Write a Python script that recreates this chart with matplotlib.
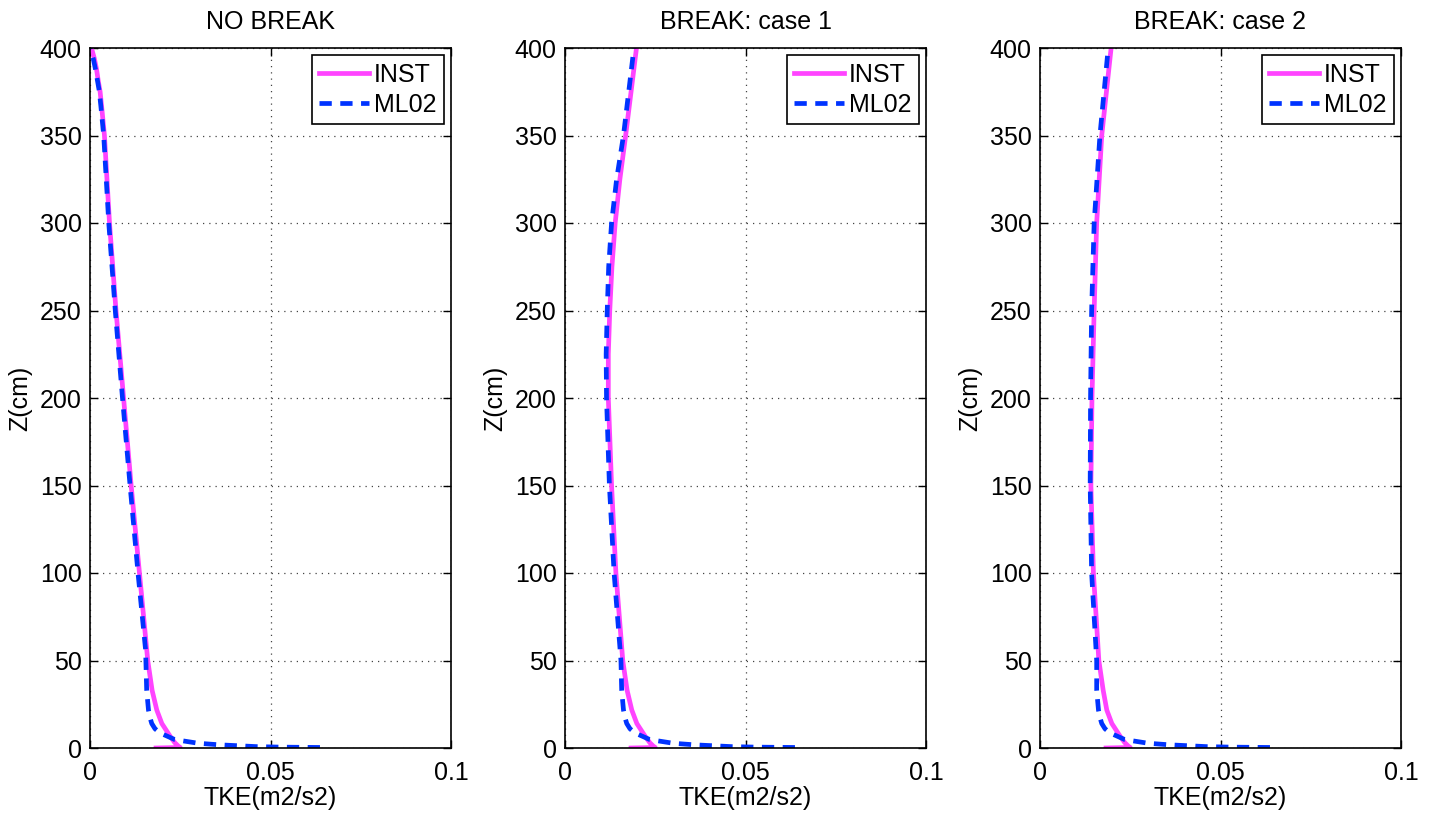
import numpy as np
import matplotlib.pyplot as plt

plt.rcParams['font.family'] = ['Liberation Sans', 'DejaVu Sans']

titles = ['NO BREAK', 'BREAK: case 1', 'BREAK: case 2']

# INST profiles (z in cm, TKE in m2/s2)
z_inst1 = [0, 0.3, 1, 3, 6.7, 14, 21.7, 33, 50, 100, 150, 200, 250, 300, 350, 367, 375,
           381, 388, 394, 400]
tke_inst1 = [0.0183, 0.025, 0.0245, 0.0235, 0.0222, 0.0199, 0.0185, 0.0172, 0.0160, 0.0137,
             0.0114, 0.0093, 0.0072, 0.0054, 0.0040, 0.0032, 0.0028, 0.0023, 0.0018, 0.0012,
             0.0004]
z_inst2 = [0, 0.3, 1, 3, 6.7, 14, 21.7, 33, 50, 100, 150, 200, 225, 250, 275, 300, 325,
           350, 400]
tke_inst2 = [0.0183, 0.025, 0.0245, 0.0235, 0.0222, 0.0199, 0.0185, 0.0172, 0.0160, 0.0141,
             0.0129, 0.0120, 0.0120, 0.0124, 0.0130, 0.0139, 0.0152, 0.0168, 0.0198]
z_inst3 = [0, 0.3, 1, 3, 6.7, 14, 21.7, 33, 50, 100, 150, 200, 250, 300, 350, 400]
tke_inst3 = [0.0183, 0.025, 0.0245, 0.0235, 0.0222, 0.0199, 0.0185, 0.0175, 0.0163, 0.0148,
             0.0141, 0.0144, 0.0150, 0.0157, 0.0171, 0.0197]

# ML02 profiles
z_ml1 = [0.3, 0.5, 0.8, 1.8, 2.7, 4.8, 8.6, 11, 14, 17.5, 21.7, 33, 56, 100, 150, 200, 250,
         300, 350, 367, 375, 381, 388, 394, 400]
tke_ml1 = [0.0637, 0.0527, 0.046, 0.036, 0.030, 0.0235, 0.0194, 0.0180, 0.0171, 0.0166,
           0.0162, 0.0157, 0.0154, 0.0133, 0.0111, 0.0090, 0.0070, 0.0052, 0.0038, 0.0030,
           0.0026, 0.0021, 0.0015, 0.0009, 0.0]
z_ml2 = [0.3, 0.5, 0.8, 1.8, 2.7, 4.8, 8.6, 11, 14, 17.5, 21.7, 33, 50, 100, 150, 200, 225,
         250, 275, 300, 325, 350, 400]
tke_ml2 = [0.0637, 0.0527, 0.046, 0.036, 0.030, 0.0235, 0.0194, 0.0180, 0.0171, 0.0166,
           0.0162, 0.0157, 0.0155, 0.0136, 0.0123, 0.0115, 0.0114, 0.0117, 0.0121, 0.0129,
           0.0143, 0.0162, 0.0191]
z_ml3 = [0.3, 0.5, 0.8, 1.8, 2.7, 4.8, 8.6, 11, 14, 17.5, 21.7, 33, 50, 100, 150, 200, 250,
         300, 350, 400]
tke_ml3 = [0.0637, 0.0527, 0.046, 0.036, 0.030, 0.0235, 0.0194, 0.0180, 0.0171, 0.0166,
           0.0162, 0.0157, 0.0157, 0.0143, 0.0139, 0.0140, 0.0143, 0.0150, 0.0166, 0.0189]

inst = [(tke_inst1, z_inst1), (tke_inst2, z_inst2), (tke_inst3, z_inst3)]
ml02 = [(tke_ml1, z_ml1), (tke_ml2, z_ml2), (tke_ml3, z_ml3)]

fig = plt.figure(figsize=(14.37, 8.19), dpi=100)
lefts = [90, 565, 1040]
for i in range(3):
    ax = fig.add_axes([lefts[i] / 1437, 1 - 748 / 819, 361 / 1437, 700 / 819])
    ax.plot(inst[i][0], inst[i][1], color='#FF44FF', lw=3.4, label='INST',
            solid_joinstyle='round')
    ax.plot(ml02[i][0], ml02[i][1], color='#0033FF', lw=3.4, dashes=(2.6, 1.8),
            label='ML02')
    ax.set_xlim([0, 0.1])
    ax.set_ylim([0, 400])
    ax.set_xticks([0, 0.05, 0.1])
    ax.set_xticklabels(['0', '0.05', '0.1'])
    ax.set_yticks(np.arange(0, 401, 50))
    ax.grid(True, color='#444444', linestyle=(0, (1, 4)), linewidth=0.9)
    ax.tick_params(direction='in', top=True, right=True, labelsize=18, length=6, width=1)
    ax.tick_params(axis='x', pad=9)
    ax.tick_params(axis='y', pad=6)
    for s in ax.spines.values():
        s.set_linewidth(1.2)
    ax.set_title(titles[i], fontsize=18, pad=14)
    ax.set_xlabel('TKE(m2/s2)', fontsize=18, labelpad=1)
    ax.set_ylabel('Z(cm)', fontsize=18, labelpad=5)
    leg = ax.legend(loc='upper right', fontsize=18, fancybox=False, framealpha=1,
                    edgecolor='black', handlelength=2.0, borderpad=0.3,
                    labelspacing=0.25, handletextpad=0.2, borderaxespad=0.28)
    leg.get_frame().set_linewidth(1.2)

plt.savefig('out.png', dpi=100)
